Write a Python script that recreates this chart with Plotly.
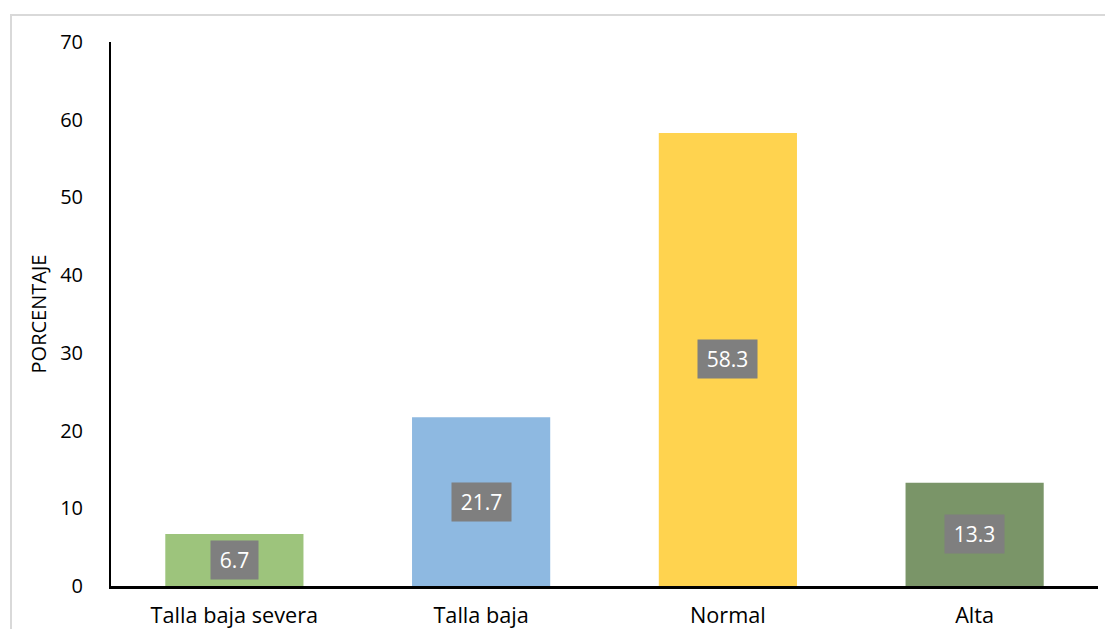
import plotly.graph_objects as go

# Categories and percentages
categorias = ["Talla baja severa", "Talla baja", "Normal", "Alta"]
porcentajes = [6.7, 21.7, 58.3, 13.3]
colores = ["#9DC47C", "#8EB9E1", "#FFD34F", "#7A9568"]

FONT = "Open Sans, sans-serif"

fig = go.Figure(
    go.Bar(
        x=categorias,
        y=porcentajes,
        marker=dict(color=colores, line=dict(width=0)),
        hoverinfo="x+y",
    )
)

# Value labels: gray boxes centred in each bar
for cat, val in zip(categorias, porcentajes):
    txt = f"{val:.1f}"
    fig.add_annotation(
        x=cat, y=val / 2, text=txt, showarrow=False,
        font=dict(family=FONT, size=21, color="white"),
        bgcolor="#7F7F7F", borderpad=0,
        width=12 * len(txt) + 11, height=38,
    )

# Light outer frame around the chart area
fig.add_shape(
    type="rect", xref="paper", yref="paper",
    x0=-0.1013, x1=1.2, y0=-0.3, y1=1.0496,
    line=dict(color="#D9D9D9", width=2), fillcolor="rgba(0,0,0,0)", layer="below",
)

fig.update_layout(
    width=1105, height=629,
    margin=dict(l=111, r=7, t=42, b=43),
    paper_bgcolor="white", plot_bgcolor="white",
    bargap=0.44,
    showlegend=False,
    font=dict(family=FONT, size=20, color="black"),
    xaxis=dict(
        showline=True, linecolor="black", linewidth=3,
        showgrid=False, ticks="", ticklabelstandoff=8,
        tickfont=dict(size=21.7), automargin=False,
    ),
    yaxis=dict(
        range=[0, 70], dtick=10, tick0=0,
        showline=True, linecolor="black", linewidth=2,
        showgrid=False, zeroline=False, ticks="",
        ticklabelstandoff=22, automargin=False,
        tickfont=dict(size=20),
        title=dict(text="PORCENTAJE", font=dict(size=20), standoff=8),
    ),
)

fig.write_html("out.html")
